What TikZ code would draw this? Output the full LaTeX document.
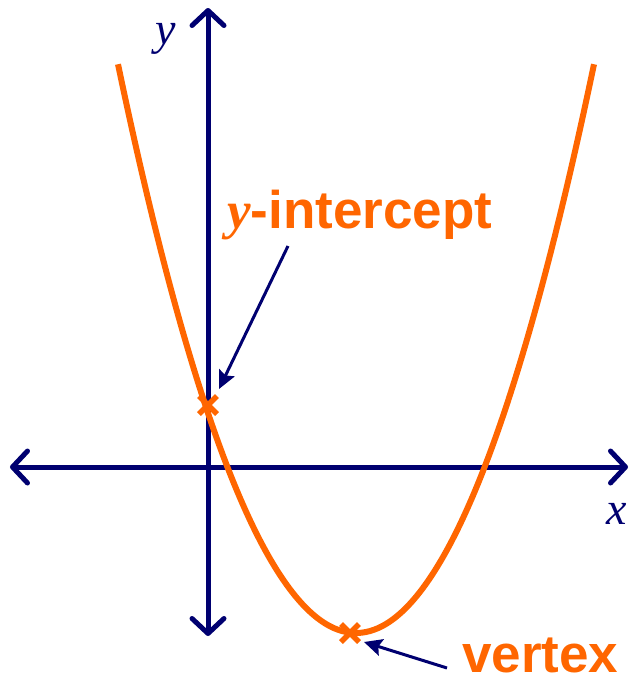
\documentclass[tikz,border=0pt]{standalone}
\usepackage{fontspec}
\setmainfont{Liberation Sans}
\newfontfamily\serifit{Liberation Serif}
\usetikzlibrary{arrows.meta,calc}
\definecolor{navy}{HTML}{000070}
\definecolor{orng}{HTML}{FF6600}
\tikzset{
  axisline/.style={navy, line width=5pt, {Straight Barb[length=15pt,width=32pt,round]}-{Straight Barb[length=15pt,width=32pt,round]}},
  pointer/.style={navy, line width=3pt, -{Stealth[length=18pt,width=17pt,inset=3pt]}},
  curveline/.style={orng, line width=6pt},
  crossmark/.style={orng, line width=5.5pt},
  biglabel/.style={orng, font=\fontsize{53}{53}\selectfont\bfseries, inner sep=0pt, anchor=base west},
  axislabel/.style={navy, font=\fontsize{46}{46}\selectfont\serifit\itshape, inner sep=0pt, anchor=base}
}
\begin{document}
\begin{tikzpicture}[x=1pt,y=-1pt]
\useasboundingbox (0,0) rectangle (631,681);
\coordinate (xl) at (10,467);
\coordinate (xr) at (628,467);
\coordinate (yt) at (208,8);
\coordinate (yb) at (208,636);
\draw[axisline] (xl) -- (xr);
\draw[axisline] (yb) -- (yt);
\draw[curveline] plot[domain=118:594, samples=120, smooth] (\x, {633-(0.1002*(\x-356))^2});
\coordinate (yi) at (208,405);
\coordinate (vx) at (350,633);
\draw[crossmark] ($(yi)+(-9,-9)$) -- ($(yi)+(9,9)$) ($(yi)+(-9,9)$) -- ($(yi)+(9,-9)$);
\draw[crossmark] ($(vx)+(-9,-9)$) -- ($(vx)+(9,9)$) ($(vx)+(-9,9)$) -- ($(vx)+(9,-9)$);
\node[axislabel] (ylab) at (166,44) {y};
\node[axislabel] (xlab) at (617,524) {x};
\node[biglabel] (yint) at (227,228) {{\serifit\itshape y}-intercept};
\node[biglabel] (vert) at (462,672) {vertex};
\coordinate (p1s) at (288,246);
\coordinate (p1e) at (219,389);
\coordinate (p2s) at (447,668);
\coordinate (p2e) at (364,642);
\draw[pointer] (p1s) -- (p1e);
\draw[pointer] (p2s) -- (p2e);
\end{tikzpicture}
\end{document}
